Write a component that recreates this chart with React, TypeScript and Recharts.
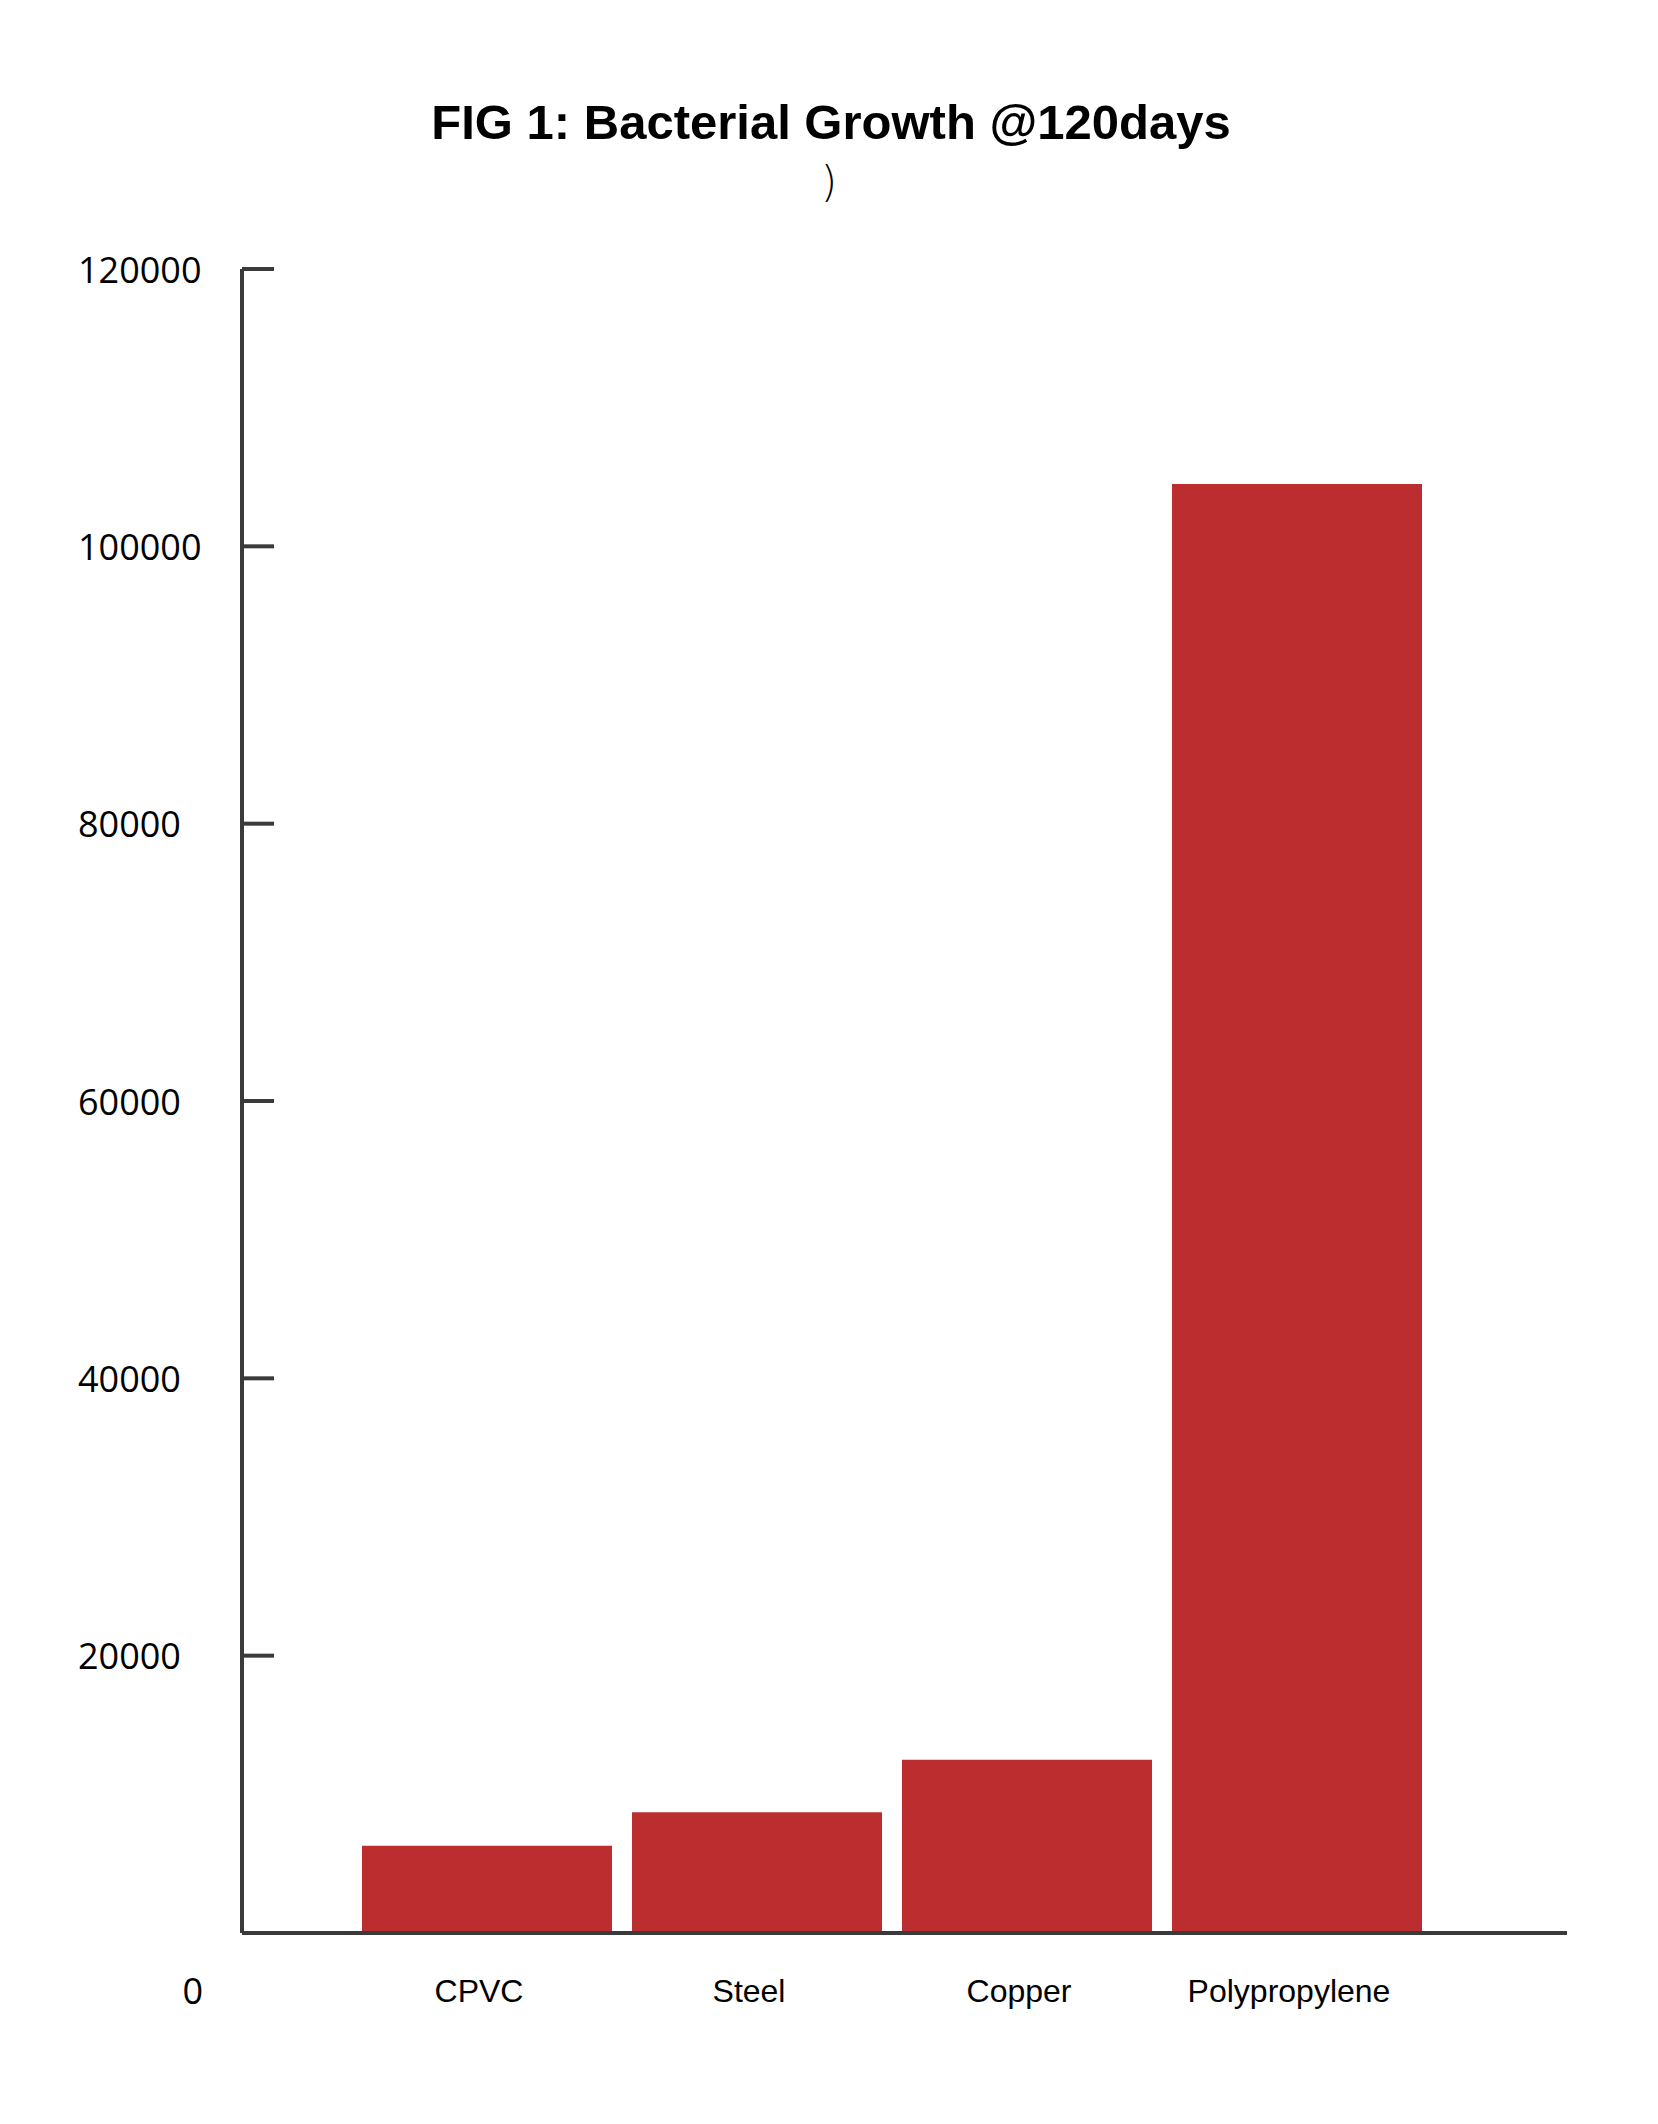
import { BarChart, Bar, XAxis, YAxis } from 'recharts'

const materials = ['CPVC', 'Steel', 'Copper', 'Polypropylene']
const growth = [6300, 8700, 12500, 104500]
const yTicks = [0, 20000, 40000, 60000, 80000, 100000, 120000]

const data = materials.map((material, i) => ({ material, growth: growth[i] }))

const axisColor = '#3a3a3a'
const barColor = '#bc2d2f'

const YTick = (props: any) => {
  const { x, y, payload } = props
  if (payload.value === 0) {
    return (
      <text
        x={x - 39}
        y={y + 57}
        textAnchor="end"
        dominantBaseline="central"
        fontFamily="'Open Sans', sans-serif"
        fontSize={36}
        fill="#000"
      >
        0
      </text>
    )
  }
  return (
    <g>
      <line x1={x} y1={y} x2={x + 32} y2={y} stroke={axisColor} strokeWidth={4} />
      <text
        x={x - 164}
        y={y}
        textAnchor="start"
        dominantBaseline="central"
        fontFamily="'Open Sans', sans-serif"
        fontSize={36}
        fill="#000"
      >
        {payload.value}
      </text>
    </g>
  )
}

const XTick = (props: any) => {
  const { x, y, payload } = props
  return (
    <text
      x={x - 8}
      y={y + 69}
      textAnchor="middle"
      fontFamily="'Liberation Sans', Arial, sans-serif"
      fontSize={32}
      fill="#000"
    >
      {payload.value}
    </text>
  )
}

export default function App() {
  return (
    <div style={{ position: 'absolute', left: 0, top: 0, width: 1658, height: 2124, background: '#fff' }}>
      <div
        style={{
          position: 'absolute',
          left: 0,
          top: 98,
          width: 1662,
          textAlign: 'center',
          fontFamily: "'Liberation Sans', Arial, sans-serif",
          fontWeight: 'bold',
          fontSize: 49,
          lineHeight: '49px',
          color: '#000',
        }}
      >
        FIG 1: Bacterial Growth @120days
      </div>
      <div
        style={{
          position: 'absolute',
          left: 0,
          top: 161,
          width: 1658,
          textAlign: 'center',
          fontFamily: "'DejaVu Sans', sans-serif",
          fontWeight: 200,
          fontSize: 42,
          lineHeight: '44px',
          color: '#000',
        }}
      >
        )
      </div>
      <div style={{ position: 'absolute', left: 0, top: 0 }}>
        <BarChart
          width={1658}
          height={2124}
          data={data}
          margin={{ top: 269, right: 91, bottom: 131, left: 0 }}
        >
          <XAxis
            dataKey="material"
            height={60}
            padding={{ left: 110, right: 135 }}
            axisLine={{ stroke: axisColor, strokeWidth: 4 }}
            tickLine={false}
            tickSize={0}
            tickMargin={0}
            tick={<XTick />}
            interval={0}
          />
          <YAxis
            width={242}
            domain={[0, 120000]}
            ticks={yTicks}
            axisLine={{ stroke: axisColor, strokeWidth: 4 }}
            tickLine={false}
            tickSize={0}
            tickMargin={0}
            tick={<YTick />}
            interval={0}
          />
          <Bar dataKey="growth" fill={barColor} barSize={250} isAnimationActive={false} />
        </BarChart>
      </div>
    </div>
  )
}
